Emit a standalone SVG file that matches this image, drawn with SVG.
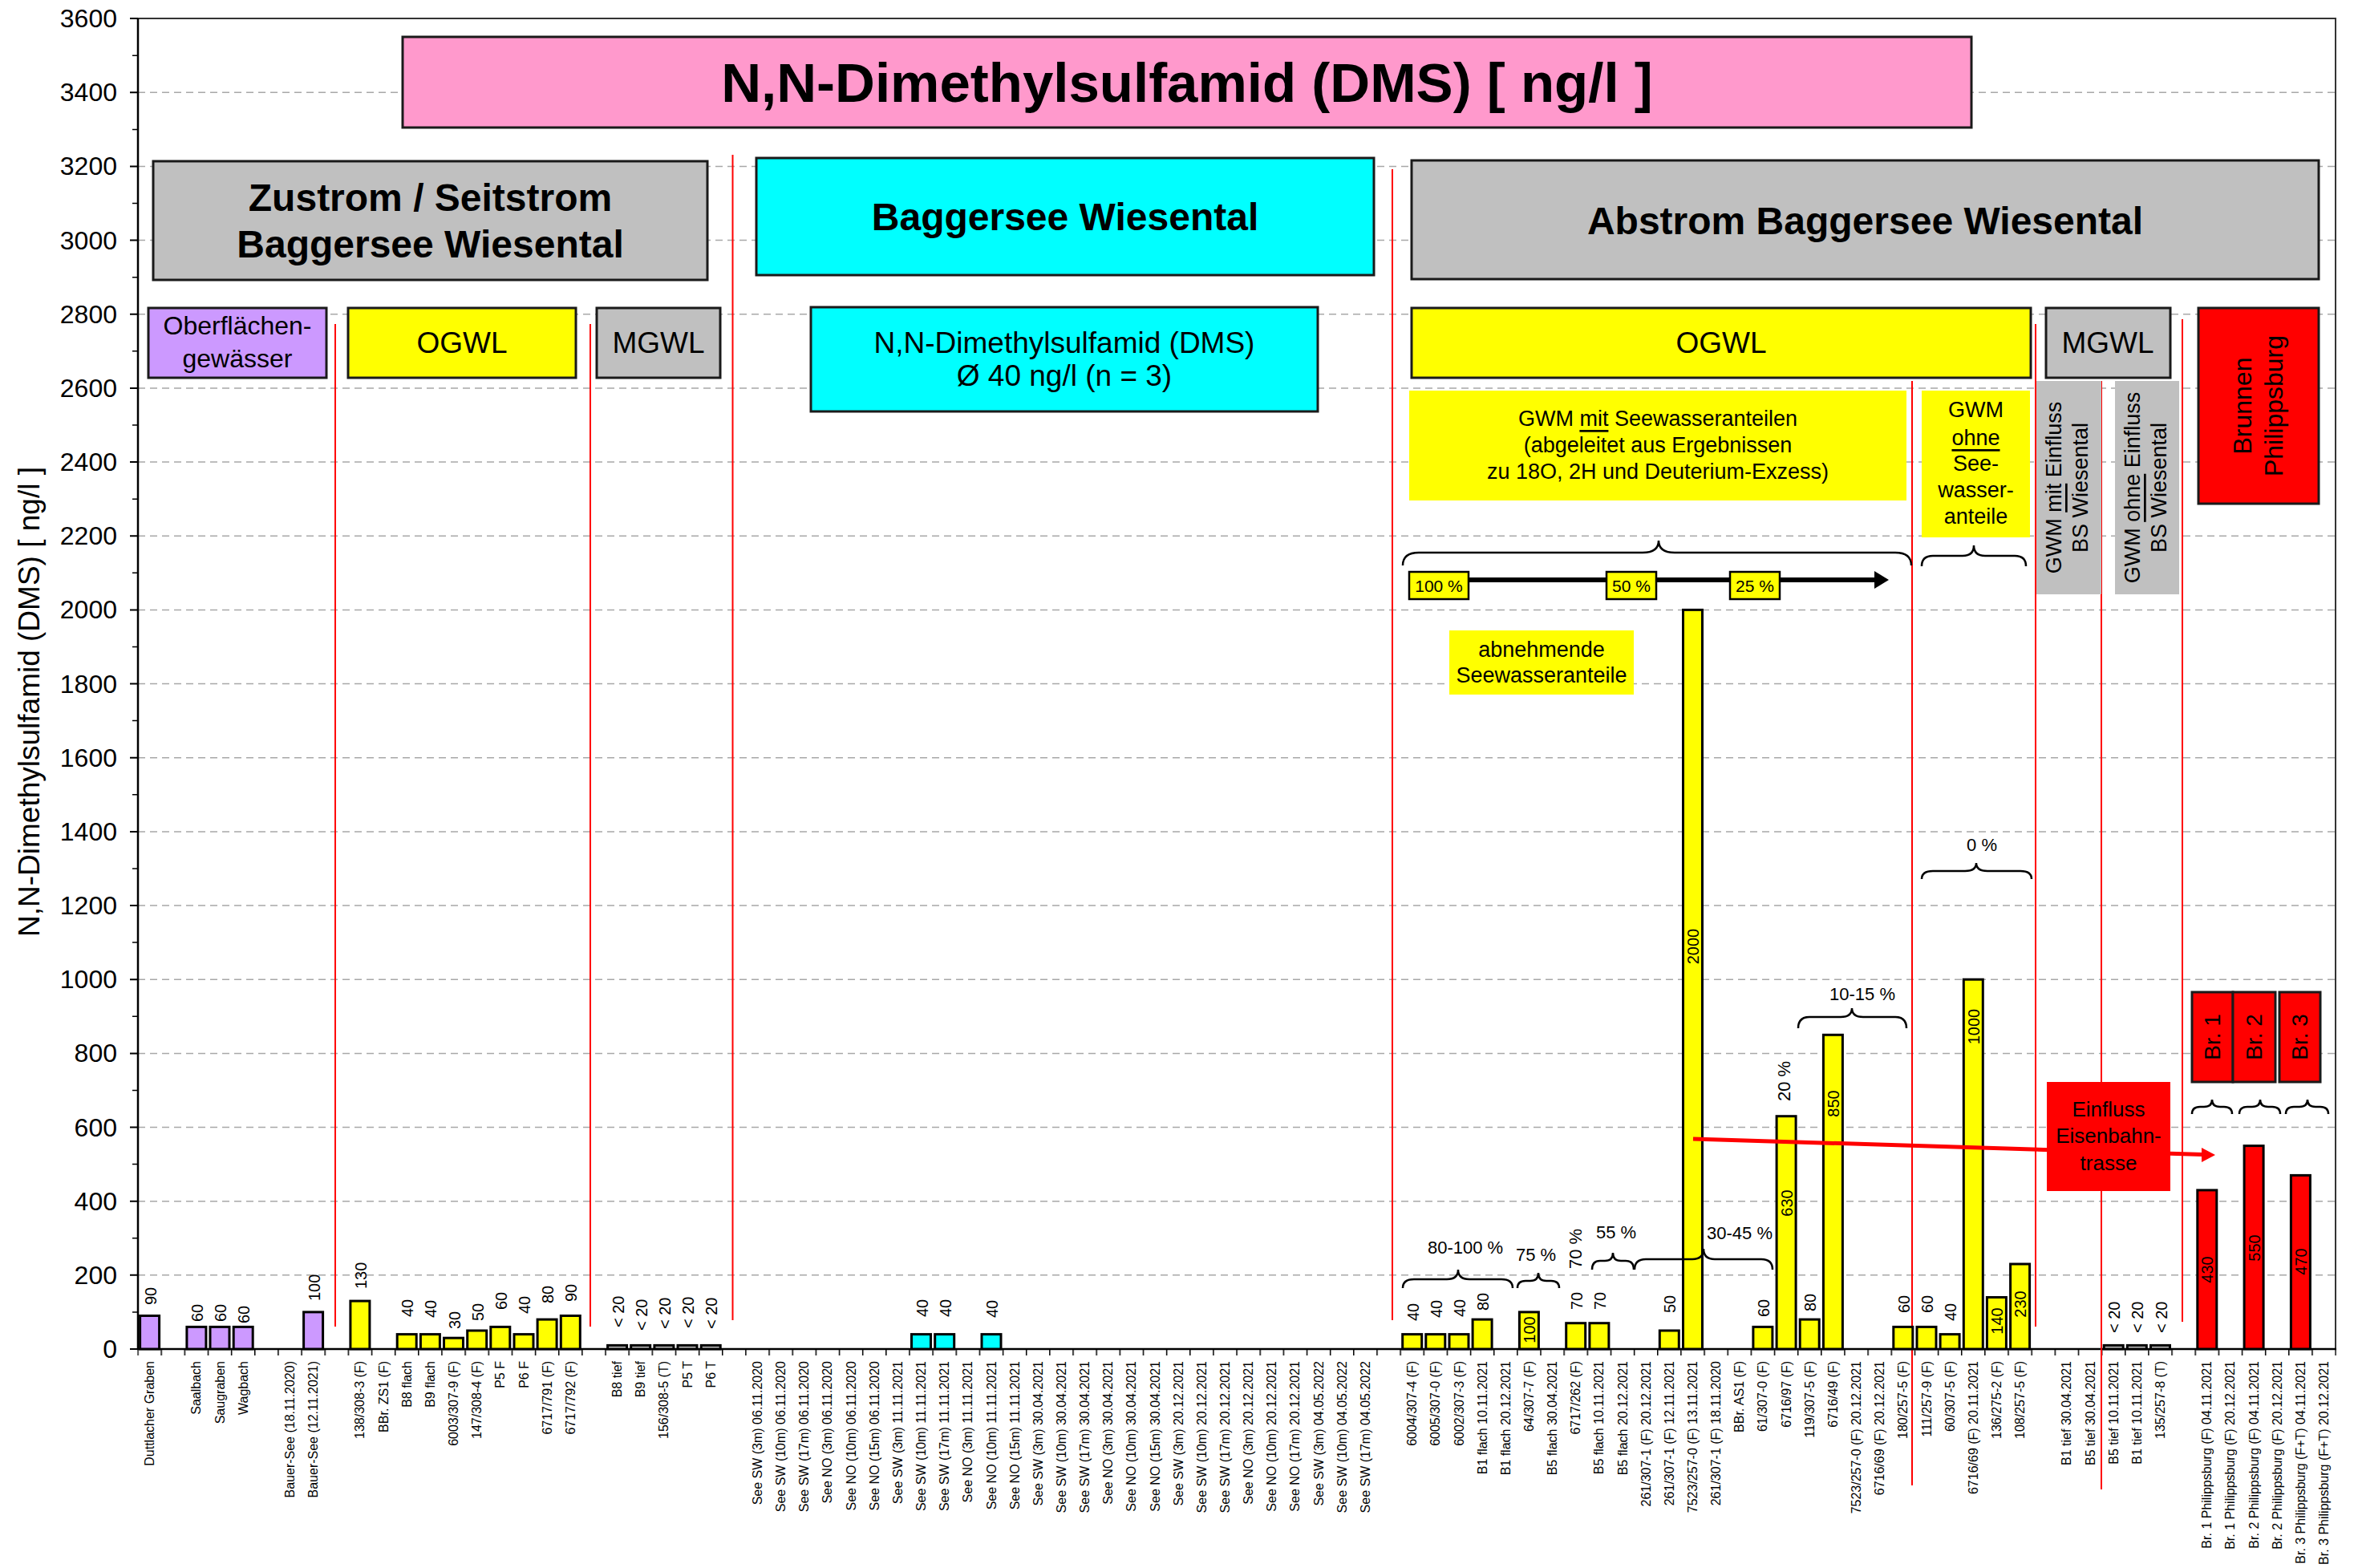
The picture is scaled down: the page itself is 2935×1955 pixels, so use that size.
<svg xmlns="http://www.w3.org/2000/svg" width="2935" height="1955" viewBox="0 0 2935 1955">
<defs>
<style>
text{font-family:"Liberation Sans",Arial,sans-serif;fill:#000;dominant-baseline:central}
.grid{stroke:#a8a8a8;stroke-width:1.5;stroke-dasharray:9 6;fill:none}
.bar{stroke:#000;stroke-width:3}
.pu{fill:#CC99FF}.ye{fill:#FFFF00}.cy{fill:#00FFFF}.rd{fill:#FF0000}.gr{fill:#C0C0C0}.pk{fill:#FF99CC}
.box{stroke:#1a1a1a;stroke-width:3}
.sep{stroke:#FF0000;stroke-width:2;fill:none}
.brace{fill:none;stroke:#000;stroke-width:2.5}
.yl{font-size:32px;text-anchor:end}
.xl{font-size:16px;text-anchor:end}
.v{font-size:20px;text-anchor:start}
.vi{font-size:20px;text-anchor:middle}
.h1{font-size:69px;font-weight:bold;text-anchor:middle}
.h2{font-size:48px;font-weight:bold;text-anchor:middle}
.h3{font-size:37px;text-anchor:middle}
.h4{font-size:32px;text-anchor:middle}
.h5{font-size:27px;text-anchor:middle}
.pc{font-size:22px;text-anchor:middle}
.pb{font-size:21px;text-anchor:middle}
.u{text-decoration:underline}
</style>
<pattern id="xticks" patternUnits="userSpaceOnUse" x="171.25" y="1682" width="29.15" height="8">
<rect x="0" y="0" width="1.5" height="8" fill="#000"/>
</pattern>
</defs>
<rect width="2935" height="1955" fill="#fff"/>

<!-- horizontal grid every 200 ng/l -->
<g id="grid">
<path class="grid" d="M172,1589.8H2912M172,1497.7H2912M172,1405.5H2912M172,1313.4H2912M172,1221.2H2912M172,1129H2912M172,1036.9H2912M172,944.7H2912M172,852.6H2912M172,760.4H2912M172,668.2H2912M172,576.1H2912M172,483.9H2912M172,391.8H2912M172,299.6H2912M172,207.4H2912M172,115.3H2912"/>
</g>

<!-- frame, axes and ticks -->
<g id="axes">
<path d="M172,23.1H2912V1682" fill="none" stroke="#333" stroke-width="2"/>
<path d="M172,23.1V1682H2913" fill="none" stroke="#000" stroke-width="2.5"/>
<rect x="171.25" y="1682" width="2742" height="8" fill="url(#xticks)"/>
<path stroke="#000" stroke-width="2" d="M162,1682h10M162,1589.8h10M162,1497.7h10M162,1405.5h10M162,1313.4h10M162,1221.2h10M162,1129h10M162,1036.9h10M162,944.7h10M162,852.6h10M162,760.4h10M162,668.2h10M162,576.1h10M162,483.9h10M162,391.8h10M162,299.6h10M162,207.4h10M162,115.3h10M162,23.1h10"/>
<path stroke="#000" stroke-width="1.5" d="M165,1635.9h7M165,1543.8h7M165,1451.6h7M165,1359.4h7M165,1267.3h7M165,1175.1h7M165,1083h7M165,990.8h7M165,898.6h7M165,806.5h7M165,714.3h7M165,622.2h7M165,530h7M165,437.8h7M165,345.7h7M165,253.5h7M165,161.4h7M165,69.2h7"/>
<g id="ylabels">
<text class="yl" x="146" y="1682">0</text>
<text class="yl" x="146" y="1589.8">200</text>
<text class="yl" x="146" y="1497.7">400</text>
<text class="yl" x="146" y="1405.5">600</text>
<text class="yl" x="146" y="1313.4">800</text>
<text class="yl" x="146" y="1221.2">1000</text>
<text class="yl" x="146" y="1129">1200</text>
<text class="yl" x="146" y="1036.9">1400</text>
<text class="yl" x="146" y="944.7">1600</text>
<text class="yl" x="146" y="852.6">1800</text>
<text class="yl" x="146" y="760.4">2000</text>
<text class="yl" x="146" y="668.2">2200</text>
<text class="yl" x="146" y="576.1">2400</text>
<text class="yl" x="146" y="483.9">2600</text>
<text class="yl" x="146" y="391.8">2800</text>
<text class="yl" x="146" y="299.6">3000</text>
<text class="yl" x="146" y="207.4">3200</text>
<text class="yl" x="146" y="115.3">3400</text>
<text class="yl" x="146" y="23.1">3600</text>
</g>
<text transform="translate(36,875) rotate(-90)" style="font-size:37px;text-anchor:middle">N,N-Dimethylsulfamid (DMS) [ ng/l ]</text>
</g>

<!-- red group separators -->
<g id="separators">
<path class="sep" d="M418,404V1654M736,404V1654M913.5,193V1646M1736,211V1646M2384,475V1852M2538,404V1654M2620,475V1857M2721,398V1648"/>
</g>

<!-- header boxes -->
<g id="title"><rect class="box pk" x="502" y="46" width="1956" height="113"/><text class="h1" x="1480" y="103">N,N-Dimethylsulfamid (DMS) [ ng/l ]</text></g>
<g id="zustrom"><rect class="box gr" x="191" y="201" width="691" height="148"/><text class="h2" x="536.5" y="246">Zustrom / Seitstrom</text><text class="h2" x="536.5" y="304">Baggersee Wiesental</text></g>
<g id="baggersee"><rect class="box cy" x="943" y="197" width="770" height="146"/><text class="h2" x="1328" y="270">Baggersee Wiesental</text></g>
<g id="abstrom"><rect class="box gr" x="1760" y="200" width="1131" height="148"/><text class="h2" x="2325.5" y="275">Abstrom Baggersee Wiesental</text></g>

<g id="oberflaeche"><rect class="box pu" x="185" y="384" width="222" height="87"/><text class="h4" x="296" y="406">Oberflächen-</text><text class="h4" x="296" y="447">gewässer</text></g>
<g id="ogwl-left"><rect class="box ye" x="434" y="384" width="284" height="87"/><text class="h3" x="576" y="427">OGWL</text></g>
<g id="mgwl-left"><rect class="box gr" x="744" y="384" width="154" height="87"/><text class="h3" x="821" y="427">MGWL</text></g>
<g id="see-mean"><rect class="box cy" x="1011" y="383" width="632" height="130"/><text class="h3" x="1327" y="427">N,N-Dimethylsulfamid (DMS)</text><text class="h3" x="1327" y="468">Ø 40 ng/l (n = 3)</text></g>
<g id="ogwl-right"><rect class="box ye" x="1760" y="384" width="772" height="87"/><text class="h3" x="2146" y="427">OGWL</text></g>
<g id="mgwl-right"><rect class="box gr" x="2551" y="384" width="155" height="87"/><text class="h3" x="2628" y="427">MGWL</text></g>
<g id="brunnen"><rect class="box rd" x="2741" y="384" width="150" height="244"/>
<text class="h4" transform="translate(2796,506) rotate(-90)">Brunnen</text>
<text class="h4" transform="translate(2835,506) rotate(-90)">Philippsburg</text></g>

<g id="gwm-mit"><rect class="ye" x="1757" y="487" width="620" height="137"/>
<text class="h5" x="2067" y="522">GWM <tspan class="u">mit</tspan> Seewasseranteilen</text>
<text class="h5" x="2067" y="555">(abgeleitet aus Ergebnissen</text>
<text class="h5" x="2067" y="588">zu 18O, 2H und Deuterium-Exzess)</text></g>
<g id="gwm-ohne"><rect class="ye" x="2396" y="487" width="135" height="183"/>
<text class="h5" x="2463.5" y="511">GWM</text>
<text class="h5 u" x="2463.5" y="546">ohne</text>
<text class="h5" x="2463.5" y="578">See-</text>
<text class="h5" x="2463.5" y="611">wasser-</text>
<text class="h5" x="2463.5" y="644">anteile</text></g>
<g id="mit-einfluss"><rect class="gr" x="2539" y="475" width="81" height="266"/>
<text class="h5" transform="translate(2561,608) rotate(-90)">GWM <tspan class="u">mit</tspan> Einfluss</text>
<text class="h5" transform="translate(2594,608) rotate(-90)">BS Wiesental</text></g>
<g id="ohne-einfluss"><rect class="gr" x="2637" y="475" width="80" height="266"/>
<text class="h5" transform="translate(2659,608) rotate(-90)">GWM <tspan class="u">ohne</tspan> Einfluss</text>
<text class="h5" transform="translate(2692,608) rotate(-90)">BS Wiesental</text></g>

<!-- decreasing lake-water share -->
<g id="gradient">
<path class="brace" d="M1749,705 Q1749,689 1769,689 L2048,689 Q2068,689 2068,674 Q2068,689 2088,689 L2363,689 Q2383,689 2383,705"/>
<path class="brace" d="M2396,706 Q2396,693 2410,693 L2447,693 Q2461,693 2461,680 Q2461,693 2475,693 L2512,693 Q2526,693 2526,706"/>
<line x1="1831" y1="723" x2="2340" y2="723" stroke="#000" stroke-width="6"/>
<polygon points="2337,712 2355,723 2337,734" fill="#000"/>
<rect class="ye" x="1757" y="713" width="74" height="34" stroke="#000" stroke-width="2.5"/><text class="pb" x="1794" y="730">100 %</text>
<rect class="ye" x="2003" y="713" width="62" height="34" stroke="#000" stroke-width="2.5"/><text class="pb" x="2034" y="730">50 %</text>
<rect class="ye" x="2157" y="713" width="62" height="34" stroke="#000" stroke-width="2.5"/><text class="pb" x="2188" y="730">25 %</text>
</g>
<g id="abnehmend"><rect class="ye" x="1807" y="786" width="230" height="80"/><text class="h5" x="1922" y="810">abnehmende</text><text class="h5" x="1922" y="842">Seewasseranteile</text></g>

<!-- bars -->
<g id="bars">
<rect class="bar pu" x="174.6" y="1640.5" width="24" height="41.5"/>
<rect class="bar pu" x="232.9" y="1654.4" width="24" height="27.6"/>
<rect class="bar pu" x="262" y="1654.4" width="24" height="27.6"/>
<rect class="bar pu" x="291.2" y="1654.4" width="24" height="27.6"/>
<rect class="bar pu" x="378.6" y="1635.9" width="24" height="46.1"/>
<rect class="bar ye" x="436.9" y="1622.1" width="24" height="59.9"/>
<rect class="bar ye" x="495.2" y="1663.6" width="24" height="18.4"/>
<rect class="bar ye" x="524.4" y="1663.6" width="24" height="18.4"/>
<rect class="bar ye" x="553.5" y="1668.2" width="24" height="13.8"/>
<rect class="bar ye" x="582.7" y="1659" width="24" height="23"/>
<rect class="bar ye" x="611.8" y="1654.4" width="24" height="27.6"/>
<rect class="bar ye" x="641" y="1663.6" width="24" height="18.4"/>
<rect class="bar ye" x="670.1" y="1645.1" width="24" height="36.9"/>
<rect class="bar ye" x="699.3" y="1640.5" width="24" height="41.5"/>
<rect class="bar gr" x="757.6" y="1677.4" width="24" height="4.6"/>
<rect class="bar gr" x="786.7" y="1677.4" width="24" height="4.6"/>
<rect class="bar gr" x="815.9" y="1677.4" width="24" height="4.6"/>
<rect class="bar gr" x="845" y="1677.4" width="24" height="4.6"/>
<rect class="bar gr" x="874.2" y="1677.4" width="24" height="4.6"/>
<rect class="bar cy" x="1136.5" y="1663.6" width="24" height="18.4"/>
<rect class="bar cy" x="1165.7" y="1663.6" width="24" height="18.4"/>
<rect class="bar cy" x="1224" y="1663.6" width="24" height="18.4"/>
<rect class="bar ye" x="1748.7" y="1663.6" width="24" height="18.4"/>
<rect class="bar ye" x="1777.8" y="1663.6" width="24" height="18.4"/>
<rect class="bar ye" x="1807" y="1663.6" width="24" height="18.4"/>
<rect class="bar ye" x="1836.1" y="1645.1" width="24" height="36.9"/>
<rect class="bar ye" x="1894.4" y="1635.9" width="24" height="46.1"/>
<rect class="bar ye" x="1952.7" y="1649.7" width="24" height="32.3"/>
<rect class="bar ye" x="1981.9" y="1649.7" width="24" height="32.3"/>
<rect class="bar ye" x="2069.3" y="1659" width="24" height="23"/>
<rect class="bar ye" x="2098.5" y="760.4" width="24" height="921.6"/>
<rect class="bar ye" x="2185.9" y="1654.4" width="24" height="27.6"/>
<rect class="bar ye" x="2215.1" y="1391.7" width="24" height="290.3"/>
<rect class="bar ye" x="2244.2" y="1645.1" width="24" height="36.9"/>
<rect class="bar ye" x="2273.4" y="1290.3" width="24" height="391.7"/>
<rect class="bar ye" x="2360.8" y="1654.4" width="24" height="27.6"/>
<rect class="bar ye" x="2390" y="1654.4" width="24" height="27.6"/>
<rect class="bar ye" x="2419.1" y="1663.6" width="24" height="18.4"/>
<rect class="bar ye" x="2448.3" y="1221.2" width="24" height="460.8"/>
<rect class="bar ye" x="2477.4" y="1617.5" width="24" height="64.5"/>
<rect class="bar ye" x="2506.6" y="1576" width="24" height="106"/>
<rect class="bar gr" x="2623.2" y="1677.4" width="24" height="4.6"/>
<rect class="bar gr" x="2652.3" y="1677.4" width="24" height="4.6"/>
<rect class="bar gr" x="2681.5" y="1677.4" width="24" height="4.6"/>
<rect class="bar rd" x="2739.8" y="1483.9" width="24" height="198.1"/>
<rect class="bar rd" x="2798.1" y="1428.6" width="24" height="253.4"/>
<rect class="bar rd" x="2856.4" y="1465.4" width="24" height="216.6"/>
</g>

<!-- value labels -->
<g id="values">
<text class="v" transform="translate(188,1627) rotate(-90)">90</text>
<text class="v" transform="translate(246,1648) rotate(-90)">60</text>
<text class="v" transform="translate(275,1648) rotate(-90)">60</text>
<text class="v" transform="translate(304,1650) rotate(-90)">60</text>
<text class="v" transform="translate(392,1622) rotate(-90)">100</text>
<text class="v" transform="translate(450,1607) rotate(-90)">130</text>
<text class="v" transform="translate(508,1642) rotate(-90)">40</text>
<text class="v" transform="translate(537,1643) rotate(-90)">40</text>
<text class="v" transform="translate(567,1657) rotate(-90)">30</text>
<text class="v" transform="translate(596,1647) rotate(-90)">50</text>
<text class="v" transform="translate(625,1633) rotate(-90)">60</text>
<text class="v" transform="translate(654,1638) rotate(-90)">40</text>
<text class="v" transform="translate(683,1625) rotate(-90)">80</text>
<text class="v" transform="translate(712,1623) rotate(-90)">90</text>
<text class="v" transform="translate(771,1655) rotate(-90)">&lt; 20</text>
<text class="v" transform="translate(800,1659) rotate(-90)">&lt; 20</text>
<text class="v" transform="translate(829,1657) rotate(-90)">&lt; 20</text>
<text class="v" transform="translate(858,1656) rotate(-90)">&lt; 20</text>
<text class="v" transform="translate(887,1657) rotate(-90)">&lt; 20</text>
<text class="v" transform="translate(1150,1642) rotate(-90)">40</text>
<text class="v" transform="translate(1179,1642) rotate(-90)">40</text>
<text class="v" transform="translate(1237,1643) rotate(-90)">40</text>
<text class="v" transform="translate(1762,1647) rotate(-90)">40</text>
<text class="v" transform="translate(1791,1643) rotate(-90)">40</text>
<text class="v" transform="translate(1820,1642) rotate(-90)">40</text>
<text class="v" transform="translate(1849,1634) rotate(-90)">80</text>
<text class="v" transform="translate(1966,1633) rotate(-90)">70</text>
<text class="v" transform="translate(1995,1633) rotate(-90)">70</text>
<text class="v" transform="translate(2082,1637) rotate(-90)">50</text>
<text class="v" transform="translate(2199,1642) rotate(-90)">60</text>
<text class="v" transform="translate(2257,1635) rotate(-90)">80</text>
<text class="v" transform="translate(2374,1637) rotate(-90)">60</text>
<text class="v" transform="translate(2403,1637) rotate(-90)">60</text>
<text class="v" transform="translate(2432,1647) rotate(-90)">40</text>
<text class="v" transform="translate(2636,1662) rotate(-90)">&lt; 20</text>
<text class="v" transform="translate(2665,1662) rotate(-90)">&lt; 20</text>
<text class="v" transform="translate(2695,1662) rotate(-90)">&lt; 20</text>
<text class="vi" transform="translate(1907,1658) rotate(-90)">100</text>
<text class="vi" transform="translate(2111,1180) rotate(-90)">2000</text>
<text class="vi" transform="translate(2228,1500) rotate(-90)">630</text>
<text class="vi" transform="translate(2286,1376) rotate(-90)">850</text>
<text class="vi" transform="translate(2461,1280) rotate(-90)">1000</text>
<text class="vi" transform="translate(2490,1647) rotate(-90)">140</text>
<text class="vi" transform="translate(2519,1626) rotate(-90)">230</text>
<text class="vi" transform="translate(2752,1583) rotate(-90)">430</text>
<text class="vi" transform="translate(2811,1556) rotate(-90)">550</text>
<text class="vi" transform="translate(2869,1573) rotate(-90)">470</text>
</g>

<!-- share annotations -->
<g id="shares">
<path class="brace" d="M1749,1606 Q1749,1595 1763,1595 L1804,1595 Q1818,1595 1818,1583 Q1818,1595 1832,1595 L1872,1595 Q1886,1595 1886,1606"/>
<text class="pc" x="1827" y="1555">80-100 %</text>
<path class="brace" d="M1892,1606 Q1892,1597 1902,1597 L1908,1597 Q1918,1597 1918,1587 Q1918,1597 1928,1597 L1934,1597 Q1944,1597 1944,1606"/>
<text class="pc" x="1915" y="1564">75 %</text>
<text class="pc" transform="translate(1964,1557) rotate(-90)">70 %</text>
<path class="brace" d="M1985,1583 Q1985,1572 1995,1572 L2001,1572 Q2011,1572 2011,1562 Q2011,1572 2021,1572 L2027,1572 Q2037,1572 2037,1583"/>
<text class="pc" x="2015" y="1536">55 %</text>
<path class="brace" d="M2038,1583 Q2038,1570 2052,1570 L2110,1570 Q2124,1570 2124,1557 Q2124,1570 2138,1570 L2196,1570 Q2210,1570 2210,1583"/>
<text class="pc" x="2169" y="1537">30-45 %</text>
<text class="pc" transform="translate(2224,1348) rotate(-90)">20 %</text>
<path class="brace" d="M2242,1282 Q2242,1268 2256,1268 L2295,1268 Q2309,1268 2309,1257 Q2309,1268 2323,1268 L2363,1268 Q2377,1268 2377,1282"/>
<text class="pc" x="2322" y="1239">10-15 %</text>
<path class="brace" d="M2396,1096 Q2396,1086 2410,1086 L2450,1086 Q2464,1086 2464,1076 Q2464,1086 2478,1086 L2519,1086 Q2533,1086 2533,1096"/>
<text class="pc" x="2471" y="1053">0 %</text>
</g>

<!-- railway influence -->
<g id="eisenbahn">
<line x1="2111" y1="1420" x2="2747" y2="1439.5" stroke="#FF0000" stroke-width="5"/>
<polygon points="2745,1431 2762,1440 2745,1449" fill="#FF0000"/>
<rect class="rd" x="2552" y="1349" width="154" height="136"/>
<text class="h5" x="2629" y="1383" style="font-size:26px">Einfluss</text>
<text class="h5" x="2629" y="1416" style="font-size:26px">Eisenbahn-</text>
<text class="h5" x="2629" y="1450" style="font-size:26px">trasse</text>
</g>
<g id="wells">
<rect class="box rd" x="2733" y="1237" width="51" height="112"/>
<rect class="box rd" x="2784" y="1237" width="53" height="112"/>
<rect class="box rd" x="2842" y="1237" width="51" height="112"/>
<text class="h5" transform="translate(2758.5,1293) rotate(-90)" style="font-size:28px">Br. 1</text>
<text class="h5" transform="translate(2810.5,1293) rotate(-90)" style="font-size:28px">Br. 2</text>
<text class="h5" transform="translate(2867.5,1293) rotate(-90)" style="font-size:28px">Br. 3</text>
<path class="brace" d="M2733,1389 Q2733,1380 2743,1380 L2748,1380 Q2758,1380 2758,1371 Q2758,1380 2768,1380 L2773,1380 Q2783,1380 2783,1389"/>
<path class="brace" d="M2792,1389 Q2792,1380 2802,1380 L2808,1380 Q2818,1380 2818,1371 Q2818,1380 2828,1380 L2833,1380 Q2843,1380 2843,1389"/>
<path class="brace" d="M2850,1389 Q2850,1380 2860,1380 L2867,1380 Q2877,1380 2877,1371 Q2877,1380 2887,1380 L2893,1380 Q2903,1380 2903,1389"/>
</g>

<!-- category labels -->
<g id="xlabels">
<text class="xl" transform="translate(186.6,1697) rotate(-90)">Duttlacher Graben</text>
<text class="xl" transform="translate(244.9,1697) rotate(-90)">Saalbach</text>
<text class="xl" transform="translate(274,1697) rotate(-90)">Saugraben</text>
<text class="xl" transform="translate(303.2,1697) rotate(-90)">Wagbach</text>
<text class="xl" transform="translate(361.5,1697) rotate(-90)">Bauer-See (18.11.2020)</text>
<text class="xl" transform="translate(390.6,1697) rotate(-90)">Bauer-See (12.11.2021)</text>
<text class="xl" transform="translate(448.9,1697) rotate(-90)">138/308-3 (F)</text>
<text class="xl" transform="translate(478.1,1697) rotate(-90)">BBr. ZS1 (F)</text>
<text class="xl" transform="translate(507.2,1697) rotate(-90)">B8 flach</text>
<text class="xl" transform="translate(536.4,1697) rotate(-90)">B9 flach</text>
<text class="xl" transform="translate(565.5,1697) rotate(-90)">6003/307-9 (F)</text>
<text class="xl" transform="translate(594.7,1697) rotate(-90)">147/308-4 (F)</text>
<text class="xl" transform="translate(623.8,1697) rotate(-90)">P5 F</text>
<text class="xl" transform="translate(653,1697) rotate(-90)">P6 F</text>
<text class="xl" transform="translate(682.1,1697) rotate(-90)">6717/791 (F)</text>
<text class="xl" transform="translate(711.3,1697) rotate(-90)">6717/792 (F)</text>
<text class="xl" transform="translate(769.6,1697) rotate(-90)">B8 tief</text>
<text class="xl" transform="translate(798.7,1697) rotate(-90)">B9 tief</text>
<text class="xl" transform="translate(827.9,1697) rotate(-90)">156/308-5 (T)</text>
<text class="xl" transform="translate(857,1697) rotate(-90)">P5 T</text>
<text class="xl" transform="translate(886.2,1697) rotate(-90)">P6 T</text>
<text class="xl" transform="translate(944.5,1697) rotate(-90)">See SW (3m) 06.11.2020</text>
<text class="xl" transform="translate(973.6,1697) rotate(-90)">See SW (10m) 06.11.2020</text>
<text class="xl" transform="translate(1002.8,1697) rotate(-90)">See SW (17m) 06.11.2020</text>
<text class="xl" transform="translate(1031.9,1697) rotate(-90)">See NO (3m) 06.11.2020</text>
<text class="xl" transform="translate(1061.1,1697) rotate(-90)">See NO (10m) 06.11.2020</text>
<text class="xl" transform="translate(1090.2,1697) rotate(-90)">See NO (15m) 06.11.2020</text>
<text class="xl" transform="translate(1119.4,1697) rotate(-90)">See SW (3m) 11.11.2021</text>
<text class="xl" transform="translate(1148.5,1697) rotate(-90)">See SW (10m) 11.11.2021</text>
<text class="xl" transform="translate(1177.7,1697) rotate(-90)">See SW (17m) 11.11.2021</text>
<text class="xl" transform="translate(1206.8,1697) rotate(-90)">See NO (3m) 11.11.2021</text>
<text class="xl" transform="translate(1236,1697) rotate(-90)">See NO (10m) 11.11.2021</text>
<text class="xl" transform="translate(1265.1,1697) rotate(-90)">See NO (15m) 11.11.2021</text>
<text class="xl" transform="translate(1294.3,1697) rotate(-90)">See SW (3m) 30.04.2021</text>
<text class="xl" transform="translate(1323.4,1697) rotate(-90)">See SW (10m) 30.04.2021</text>
<text class="xl" transform="translate(1352.6,1697) rotate(-90)">See SW (17m) 30.04.2021</text>
<text class="xl" transform="translate(1381.7,1697) rotate(-90)">See NO (3m) 30.04.2021</text>
<text class="xl" transform="translate(1410.9,1697) rotate(-90)">See NO (10m) 30.04.2021</text>
<text class="xl" transform="translate(1440,1697) rotate(-90)">See NO (15m) 30.04.2021</text>
<text class="xl" transform="translate(1469.2,1697) rotate(-90)">See SW (3m) 20.12.2021</text>
<text class="xl" transform="translate(1498.3,1697) rotate(-90)">See SW (10m) 20.12.2021</text>
<text class="xl" transform="translate(1527.5,1697) rotate(-90)">See SW (17m) 20.12.2021</text>
<text class="xl" transform="translate(1556.6,1697) rotate(-90)">See NO (3m) 20.12.2021</text>
<text class="xl" transform="translate(1585.8,1697) rotate(-90)">See NO (10m) 20.12.2021</text>
<text class="xl" transform="translate(1614.9,1697) rotate(-90)">See NO (17m) 20.12.2021</text>
<text class="xl" transform="translate(1644.1,1697) rotate(-90)">See SW (3m) 04.05.2022</text>
<text class="xl" transform="translate(1673.2,1697) rotate(-90)">See SW (10m) 04.05.2022</text>
<text class="xl" transform="translate(1702.4,1697) rotate(-90)">See SW (17m) 04.05.2022</text>
<text class="xl" transform="translate(1760.7,1697) rotate(-90)">6004/307-4 (F)</text>
<text class="xl" transform="translate(1789.8,1697) rotate(-90)">6005/307-0 (F)</text>
<text class="xl" transform="translate(1819,1697) rotate(-90)">6002/307-3 (F)</text>
<text class="xl" transform="translate(1848.1,1697) rotate(-90)">B1 flach 10.11.2021</text>
<text class="xl" transform="translate(1877.3,1697) rotate(-90)">B1 flach 20.12.2021</text>
<text class="xl" transform="translate(1906.4,1697) rotate(-90)">64/307-7 (F)</text>
<text class="xl" transform="translate(1935.6,1697) rotate(-90)">B5 flach 30.04.2021</text>
<text class="xl" transform="translate(1964.7,1697) rotate(-90)">6717/262 (F)</text>
<text class="xl" transform="translate(1993.9,1697) rotate(-90)">B5 flach 10.11.2021</text>
<text class="xl" transform="translate(2023,1697) rotate(-90)">B5 flach 20.12.2021</text>
<text class="xl" transform="translate(2052.2,1697) rotate(-90)">261/307-1 (F) 20.12.2021</text>
<text class="xl" transform="translate(2081.3,1697) rotate(-90)">261/307-1 (F) 12.11.2021</text>
<text class="xl" transform="translate(2110.5,1697) rotate(-90)">7523/257-0 (F) 13.11.2021</text>
<text class="xl" transform="translate(2139.6,1697) rotate(-90)">261/307-1 (F) 18.11.2020</text>
<text class="xl" transform="translate(2168.8,1697) rotate(-90)">BBr. AS1 (F)</text>
<text class="xl" transform="translate(2197.9,1697) rotate(-90)">61/307-0 (F)</text>
<text class="xl" transform="translate(2227.1,1697) rotate(-90)">6716/97 (F)</text>
<text class="xl" transform="translate(2256.2,1697) rotate(-90)">119/307-5 (F)</text>
<text class="xl" transform="translate(2285.4,1697) rotate(-90)">6716/49 (F)</text>
<text class="xl" transform="translate(2314.5,1697) rotate(-90)">7523/257-0 (F) 20.12.2021</text>
<text class="xl" transform="translate(2343.7,1697) rotate(-90)">6716/69 (F) 20.12.2021</text>
<text class="xl" transform="translate(2372.8,1697) rotate(-90)">180/257-5 (F)</text>
<text class="xl" transform="translate(2402,1697) rotate(-90)">111/257-9 (F)</text>
<text class="xl" transform="translate(2431.1,1697) rotate(-90)">60/307-5 (F)</text>
<text class="xl" transform="translate(2460.3,1697) rotate(-90)">6716/69 (F) 20.11.2021</text>
<text class="xl" transform="translate(2489.4,1697) rotate(-90)">136/275-2 (F)</text>
<text class="xl" transform="translate(2518.6,1697) rotate(-90)">108/257-5 (F)</text>
<text class="xl" transform="translate(2576.9,1697) rotate(-90)">B1 tief 30.04.2021</text>
<text class="xl" transform="translate(2606,1697) rotate(-90)">B5 tief 30.04.2021</text>
<text class="xl" transform="translate(2635.2,1697) rotate(-90)">B5 tief 10.11.2021</text>
<text class="xl" transform="translate(2664.3,1697) rotate(-90)">B1 tief 10.11.2021</text>
<text class="xl" transform="translate(2693.5,1697) rotate(-90)">135/257-8 (T)</text>
<text class="xl" transform="translate(2751.8,1697) rotate(-90)">Br. 1 Philippsburg (F) 04.11.2021</text>
<text class="xl" transform="translate(2780.9,1697) rotate(-90)">Br. 1 Philippsburg (F) 20.12.2021</text>
<text class="xl" transform="translate(2810.1,1697) rotate(-90)">Br. 2 Philippsburg (F) 04.11.2021</text>
<text class="xl" transform="translate(2839.2,1697) rotate(-90)">Br. 2 Philippsburg (F) 20.12.2021</text>
<text class="xl" transform="translate(2868.4,1697) rotate(-90)">Br. 3 Philippsburg (F+T) 04.11.2021</text>
<text class="xl" transform="translate(2897.5,1697) rotate(-90)">Br. 3 Philippsburg (F+T) 20.12.2021</text>
</g>
</svg>
